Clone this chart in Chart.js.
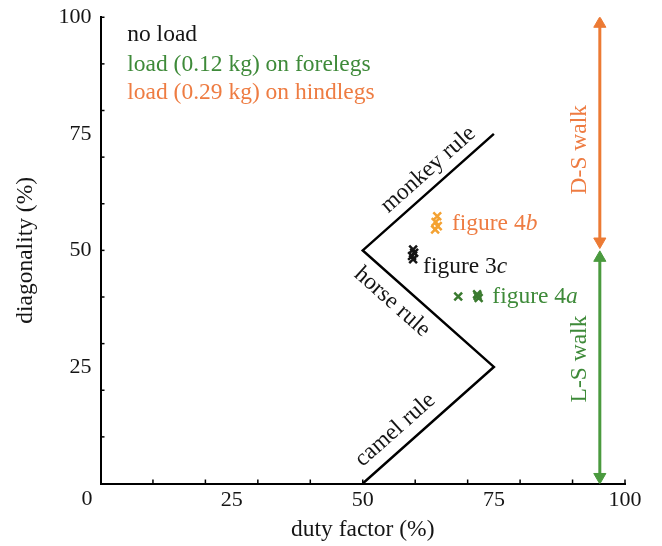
<!DOCTYPE html>
<html>
<head>
<meta charset="utf-8">
<script src="https://cdn.jsdelivr.net/npm/chart.js@4.4.1/dist/chart.umd.min.js"></script>
<style>
  html, body { margin: 0; padding: 0; background: #fff; }
  #wrap { width: 662px; height: 546px; }
</style>
</head>
<body>
<div id="wrap"><canvas id="chart"></canvas></div>
<script>
// tick labels and minor tick positions (both axes)
const X_LABELS = [25, 50, 75, 100];
const Y_LABELS = [25, 50, 75, 100];
const MINOR_TICKS = [10, 20, 30, 40, 50, 60, 70, 80, 90, 100];

// gait rule lines: camel -> horse -> monkey
const RULE_DUTY = [50, 75, 50, 75];
const RULE_DIAG = [0, 25, 50, 75];

// measured gaits
const NOLOAD_DUTY = [59.6, 59.8, 59.4, 59.6];
const NOLOAD_DIAG = [50.2, 49.5, 48.8, 48.1];
const FORE_DUTY = [68.2, 71.8, 72.1, 71.9];
const FORE_DIAG = [40.1, 40.6, 39.8, 40.2];
const HIND_DUTY = [64.2, 63.9, 64.3, 63.8];
const HIND_DIAG = [57.3, 56.1, 55.2, 54.5];

// walk ranges (arrows)
const DS_WALK = [98.6, 51.9];
const LS_WALK = [48.4, 1.4];
const WALK_DUTY = 95.2;

const FONT = "'Liberation Serif', 'Times New Roman', serif";
const TXT = 23.5;
const BLACK = '#151515';
const GREEN_TXT = '#3e8a39';
const ORANGE_TXT = '#ee7c42';
const GREEN_MK = '#3a7a2f';
const ORANGE_MK = '#f4a233';
const ORANGE_ARROW = '#ec7a34';
const GREEN_ARROW = '#4a9a3e';

const zip = (xs, ys) => xs.map((v, i) => ({ x: v, y: ys[i] }));

// text, ticks and the shared origin label
const annotations = {
  id: 'annotations',
  afterDraw(chart) {
    const { ctx, scales: { x, y } } = chart;
    ctx.save();

    // small inward tick marks
    ctx.strokeStyle = '#000';
    ctx.lineWidth = 1.5;
    MINOR_TICKS.forEach(v => {
      const px = x.getPixelForValue(v);
      const py = y.getPixelForValue(v);
      ctx.beginPath(); ctx.moveTo(px, y.bottom); ctx.lineTo(px, y.bottom - 4); ctx.stroke();
      ctx.beginPath(); ctx.moveTo(x.left, py); ctx.lineTo(x.left + 4, py); ctx.stroke();
    });

    const text = (str, dx, dy, color, opts = {}) => {
      const px = x.getPixelForValue(dx);
      const py = y.getPixelForValue(dy);
      ctx.save();
      ctx.translate(px, py);
      if (opts.angle) ctx.rotate(opts.angle);
      ctx.fillStyle = color;
      ctx.textBaseline = 'middle';
      ctx.textAlign = 'left';
      ctx.font = `${TXT}px ${FONT}`;
      const w1 = ctx.measureText(str).width;
      let w2 = 0;
      if (opts.italic) {
        ctx.font = `italic ${TXT}px ${FONT}`;
        w2 = ctx.measureText(opts.italic).width;
      }
      const start = opts.align === 'center' ? -(w1 + w2) / 2 : 0;
      ctx.font = `${TXT}px ${FONT}`;
      ctx.fillText(str, start, 0);
      if (opts.italic) {
        ctx.font = `italic ${TXT}px ${FONT}`;
        ctx.fillText(opts.italic, start + w1, 0);
      }
      ctx.restore();
    };

    const slope = (x1, y1, x2, y2) => Math.atan2(
      y.getPixelForValue(y2) - y.getPixelForValue(y1),
      x.getPixelForValue(x2) - x.getPixelForValue(x1));

    // origin "0"
    ctx.fillStyle = BLACK;
    ctx.font = `22px ${FONT}`;
    ctx.textAlign = 'right';
    ctx.textBaseline = 'middle';
    ctx.fillText('0', x.left - 8, y.bottom + 16);

    // legend text
    text('no load', 5.1, 96.2, BLACK);
    text('load (0.12 kg) on forelegs', 5.1, 89.8, GREEN_TXT);
    text('load (0.29 kg) on hindlegs', 5.1, 83.8, ORANGE_TXT);

    // rule names
    text('monkey rule', 62.5, 67.3, BLACK, { align: 'center', angle: slope(50, 50, 75, 75) });
    text('horse rule', 55.6, 38.9, BLACK, { align: 'center', angle: slope(50, 50, 75, 25) });
    text('camel rule', 56.2, 11.5, BLACK, { align: 'center', angle: slope(50, 0, 75, 25) });

    // figure references
    text('figure 4', 67.0, 55.8, ORANGE_TXT, { italic: 'b' });
    text('figure 3', 61.5, 46.4, BLACK, { italic: 'c' });
    text('figure 4', 74.7, 40, GREEN_TXT, { italic: 'a' });

    // walk names
    text('D-S walk', 91.4, 71.6, ORANGE_TXT, { align: 'center', angle: -Math.PI / 2 });
    text('L-S walk', 91.4, 26.7, GREEN_TXT, { align: 'center', angle: -Math.PI / 2 });

    ctx.restore();
  }
};

const marker = color => ({
  pointStyle: 'crossRot',
  pointRadius: 5.5,
  pointBorderWidth: 2.5,
  borderColor: color,
  backgroundColor: color,
  showLine: false,
});

const arrow = color => ({
  showLine: true,
  borderColor: color,
  backgroundColor: color,
  borderWidth: 3,
  pointStyle: 'triangle',
  pointRadius: 7,
  pointRotation: [0, 180],
  pointBorderWidth: 1,
});

const xTickFont = { family: FONT, size: 22, lineHeight: 1 };
const yTickFont = { family: FONT, size: 22, lineHeight: 0.75 };
const titleFont = { family: FONT, size: TXT, lineHeight: 1 };

new Chart(document.getElementById('chart'), {
  type: 'scatter',
  data: {
    datasets: [
      {
        label: 'rules',
        data: zip(RULE_DUTY, RULE_DIAG),
        showLine: true,
        borderColor: '#000',
        borderWidth: 2.5,
        pointRadius: 0,
      },
      { label: 'no load', data: zip(NOLOAD_DUTY, NOLOAD_DIAG), ...marker(BLACK) },
      { label: 'forelegs', data: zip(FORE_DUTY, FORE_DIAG), ...marker(GREEN_MK) },
      { label: 'hindlegs', data: zip(HIND_DUTY, HIND_DIAG), ...marker(ORANGE_MK) },
      { label: 'D-S walk', data: DS_WALK.map(v => ({ x: WALK_DUTY, y: v })), ...arrow(ORANGE_ARROW) },
      { label: 'L-S walk', data: LS_WALK.map(v => ({ x: WALK_DUTY, y: v })), ...arrow(GREEN_ARROW) },
    ],
  },
  options: {
    responsive: true,
    maintainAspectRatio: false,
    animation: false,
    layout: { padding: { top: 0, right: 37, left: 4, bottom: 0 } },
    plugins: {
      legend: { display: false },
      tooltip: { enabled: false },
    },
    scales: {
      x: {
        type: 'linear',
        min: 0,
        max: 100,
        afterBuildTicks: s => { s.ticks = X_LABELS.map(v => ({ value: v })); },
        grid: { display: true, drawOnChartArea: false, drawTicks: false },
        border: { display: true, color: '#000', width: 2 },
        ticks: { color: BLACK, font: xTickFont, padding: 6, maxRotation: 0 },
        title: { display: true, text: 'duty factor (%)', color: BLACK, font: titleFont, padding: { top: 1, bottom: 4 } },
      },
      y: {
        type: 'linear',
        min: 0,
        max: 100,
        afterBuildTicks: s => { s.ticks = Y_LABELS.map(v => ({ value: v })); },
        grid: { display: true, drawOnChartArea: false, drawTicks: false },
        border: { display: true, color: '#000', width: 2 },
        ticks: { color: BLACK, font: yTickFont, padding: 9 },
        title: { display: true, text: 'diagonality (%)', color: BLACK, font: titleFont, padding: { top: 10, bottom: 12 } },
      },
    },
  },
  plugins: [annotations],
});
</script>
</body>
</html>
